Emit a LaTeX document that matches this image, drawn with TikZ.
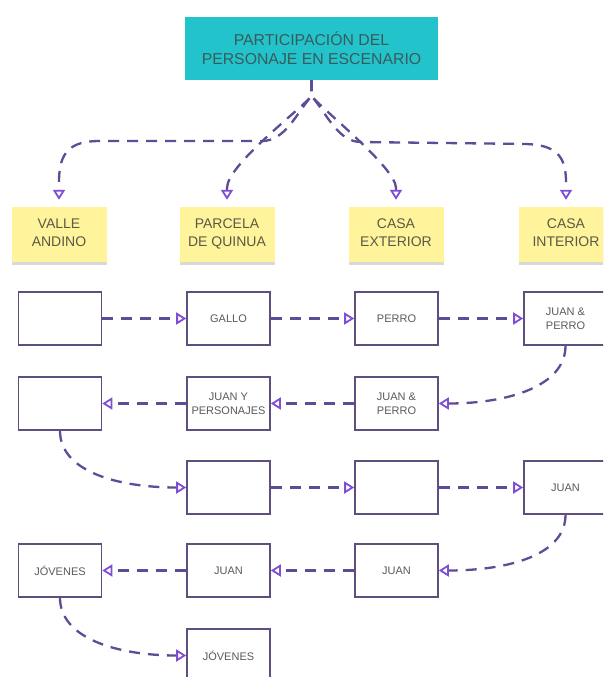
\documentclass[tikz,border=0pt]{standalone}
\usepackage{fontspec}
\setmainfont{Liberation Sans}
\usetikzlibrary{arrows.meta,shadows}
\definecolor{tealbox}{HTML}{22C3CA}
\definecolor{titletext}{HTML}{3A5B5D}
\definecolor{notefill}{HTML}{FFF49C}
\definecolor{notetext}{HTML}{5A5A45}
\definecolor{boxline}{HTML}{5E4F7E}
\definecolor{boxtext}{HTML}{5A5A5A}
\definecolor{connline}{HTML}{5F4C98}
\definecolor{tipc}{HTML}{7E4FD6}
\tikzset{
  titlebox/.style={fill=tealbox, minimum width=253pt, minimum height=63pt, inner sep=0pt,
    align=center, text=titletext, font=\fontsize{15.8}{18}\selectfont},
  note/.style={fill=notefill, minimum width=95pt, minimum height=55pt, inner sep=0pt,
    align=center, text=notetext, font=\fontsize{14}{18}\selectfont,
    drop shadow={shadow xshift=0pt, shadow yshift=-2.5pt, opacity=0.25, fill=black!60}},
  card/.style={draw=boxline, line width=1.6pt, fill=white, minimum width=83pt, minimum height=53pt,
    inner sep=0pt, align=center, text=boxtext, font=\fontsize{11}{14}\selectfont},
  conn/.style={draw=connline, line width=2.3pt, dash pattern=on 11pt off 8pt,
    -{Triangle[open, length=10pt, width=12pt, color=tipc, line width=1.8pt]}},
}
\begin{document}
\begin{tikzpicture}[x=1pt,y=-1pt]
\useasboundingbox (0,0) rectangle (603,677);
\clip (0,0) rectangle (603,677);
\fill[white] (0,0) rectangle (603,677);

\node[titlebox] (t) at (311.5,48.5) {\raisebox{1pt}{PARTICIPACIÓN DEL}\\PERSONAJE EN ESCENARIO};

\node[note] (n1) at (59,234.5) {\raisebox{3pt}{VALLE}\\\raisebox{3pt}{ANDINO}};
\node[note] (n2) at (227,234.5) {\raisebox{3pt}{PARCELA}\\\raisebox{3pt}{DE QUINUA}};
\node[note] (n3) at (396,234.5) {\raisebox{3pt}{CASA}\\\raisebox{3pt}{EXTERIOR}};
\node[note] (n4) at (566,234.5) {\raisebox{3pt}{CASA}\\\raisebox{3pt}{INTERIOR}};

% row 1
\node[card] (b11) at (60,318.5) {};
\node[card] (b12) at (228.5,318.5) {GALLO};
\node[card] (b13) at (396.5,318.5) {PERRO};
\node[card] (b14) at (565.5,318.5) {JUAN \&\\PERRO};
% row 2
\node[card] (b21) at (60,403.5) {};
\node[card] (b22) at (228.5,403.5) {JUAN Y\\PERSONAJES};
\node[card] (b23) at (396.5,403.5) {JUAN \&\\PERRO};
% row 3
\node[card] (b32) at (228.5,487.5) {};
\node[card] (b33) at (396.5,487.5) {};
\node[card] (b34) at (565.5,487.5) {JUAN};
% row 4
\node[card] (b41) at (60,570.5) {JÓVENES};
\node[card] (b42) at (228.5,570.5) {JUAN};
\node[card] (b43) at (396.5,570.5) {JUAN};
% row 5
\node[card] (b52) at (228.5,655.5) {JÓVENES};

% top connectors
\coordinate (sp) at (311.5,96);
\draw[conn, shorten >=7pt] (t.south) -- (sp)
  .. controls (296,114) and (285,141) .. (262,141) -- (100,141)
  .. controls (70,141) and (59,152) .. (59,182) -- (n1.north);
\draw[conn, shorten >=7pt] (t.south) -- (sp)
  .. controls (300,110) and (227,165) .. (227,188) -- (n2.north);
\draw[conn, shorten >=7pt] (t.south) -- (sp)
  .. controls (323,110) and (396,168) .. (396,188) -- (n3.north);
\draw[conn, shorten >=7pt] (t.south) -- (sp)
  .. controls (327,114) and (338,142) .. (361,142) -- (526,144)
  .. controls (556,145) and (566,156) .. (566,182) -- (n4.north);

% row 1
\draw[conn] (b11.east) -- (b12.west);
\draw[conn] (b12.east) -- (b13.west);
\draw[conn] (b13.east) -- (b14.west);
% row 2
\draw[conn] (b14.south) .. controls +(0,40) and +(70,0) .. (b23.east);
\draw[conn] (b23.west) -- (b22.east);
\draw[conn] (b22.west) -- (b21.east);
% row 3
\draw[conn] (b21.south) .. controls +(0,40) and +(-70,0) .. (b32.west);
\draw[conn] (b32.east) -- (b33.west);
\draw[conn] (b33.east) -- (b34.west);
% row 4
\draw[conn] (b34.south) .. controls +(0,40) and +(70,0) .. (b43.east);
\draw[conn] (b43.west) -- (b42.east);
\draw[conn] (b42.west) -- (b41.east);
% row 5
\draw[conn] (b41.south) .. controls +(0,40) and +(-70,0) .. (b52.west);
\end{tikzpicture}
\end{document}
